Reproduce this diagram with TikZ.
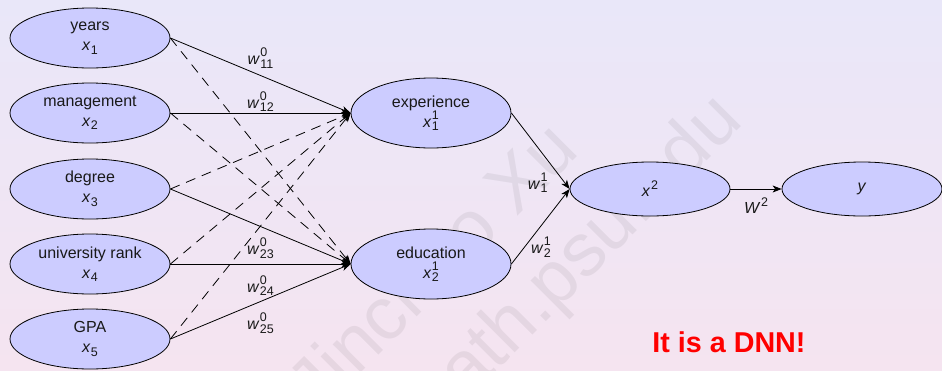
\documentclass[tikz,border=0pt]{standalone}
\usepackage{fontspec}
\setmainfont{Liberation Sans}
\usetikzlibrary{shapes.geometric,arrows.meta}

% index font and indexed sans italic variables
\newcommand\idxf{\fontsize{12.5}{12.5}\selectfont}
\newcommand\svar[3]{\textit{#1}\kern0.4pt\makebox[0pt][l]{\raisebox{8pt}{\idxf #3}}\raisebox{-3.5pt}{\idxf #2}}
\newcommand\supvar[2]{\textit{#1}\kern0.6pt\raisebox{7pt}{\idxf #2}}

\definecolor{bgtop}{RGB}{233,231,249}
\definecolor{bgbot}{RGB}{245,228,240}
\definecolor{inkc}{RGB}{25,25,25}

\begin{document}
\begin{tikzpicture}[x=1pt,y=-1pt,
  txt/.style={font=\fontsize{16}{20}\selectfont, text=inkc},
  unit/.style={txt, ellipse, draw=black, fill=blue!20, line width=0.8pt,
    minimum width=160pt, minimum height=60pt, inner sep=0pt, align=center},
  hid/.style={unit, minimum height=70pt},
  outn/.style={unit, minimum height=54pt},
  wire/.style={line width=0.8pt, draw=black,
    -{Stealth[length=9pt,width=7pt,inset=2.5pt]}},
  dwire/.style={wire, dash pattern=on 10pt off 7pt},
  lbl/.style={txt, inner sep=1pt},
  wmark/.style={font=\fontsize{75}{90}\selectfont, text=black,
    text opacity=0.06, rotate=45, anchor=base, inner sep=0pt}]

% page background
\shade[top color=bgtop, bottom color=bgbot] (0,0) rectangle (942,370);
\useasboundingbox (0,0) rectangle (942,370);

% watermark
\node[wmark] (wm1) at (450,284) {Jinchao Xu};
\node[wmark] (wm2) at (584,284) {math.psu.edu};

% input layer
\node[unit] (in1) at (90,38)  {years\\\svar{x}{1}{}};
\node[unit] (in2) at (90,113) {management\\\svar{x}{2}{}};
\node[unit] (in3) at (90,189) {degree\\\svar{x}{3}{}};
\node[unit] (in4) at (90,264) {university rank\\\svar{x}{4}{}};
\node[unit] (in5) at (90,339) {GPA\\\svar{x}{5}{}};

% hidden layer
\node[hid] (h1) at (431,113) {experience\\\svar{x}{1}{1}};
\node[hid] (h2) at (431,264) {education\\\svar{x}{2}{1}};

% output side
\node[outn] (o2) at (650,189) {\supvar{x}{2}};
\node[outn] (oy) at (862,189) {\textit{y}};

% dashed connections
\draw[dwire] (in1.east) -- (h2.west);
\draw[dwire] (in2.east) -- (h2.west);
\draw[dwire] (in3.east) -- (h1.west);
\draw[dwire] (in4.east) -- (h1.west);
\draw[dwire] (in5.east) -- (h1.west);

% solid weighted connections
\draw[wire] (in1.east) -- node[lbl, above=6pt] {\svar{w}{11}{0}} (h1.west);
\draw[wire] (in2.east) -- node[lbl, above=0pt] {\svar{w}{12}{0}} (h1.west);
\draw[wire] (in3.east) -- node[lbl, below=10pt] {\svar{w}{23}{0}} (h2.west);
\draw[wire] (in4.east) -- node[lbl, below=10pt] {\svar{w}{24}{0}} (h2.west);
\draw[wire] (in5.east) -- node[lbl, below=10pt] {\svar{w}{25}{0}} (h2.west);

\draw[wire] (h1.east) -- node[lbl, pos=0.92, left=16pt] {\svar{w}{1}{1}} (o2.west);
\draw[wire] (h2.east) -- node[lbl, pos=0.227, right=5pt] {\svar{w}{2}{1}} (o2.west);
\draw[wire] (o2.east) -- node[lbl, below=7pt] {\supvar{W}{2}} (oy.west);

% remark
\node[font=\fontsize{28.7}{34}\selectfont\bfseries, text=red] (rem) at (729,342) {It is a DNN!};
\end{tikzpicture}
\end{document}
